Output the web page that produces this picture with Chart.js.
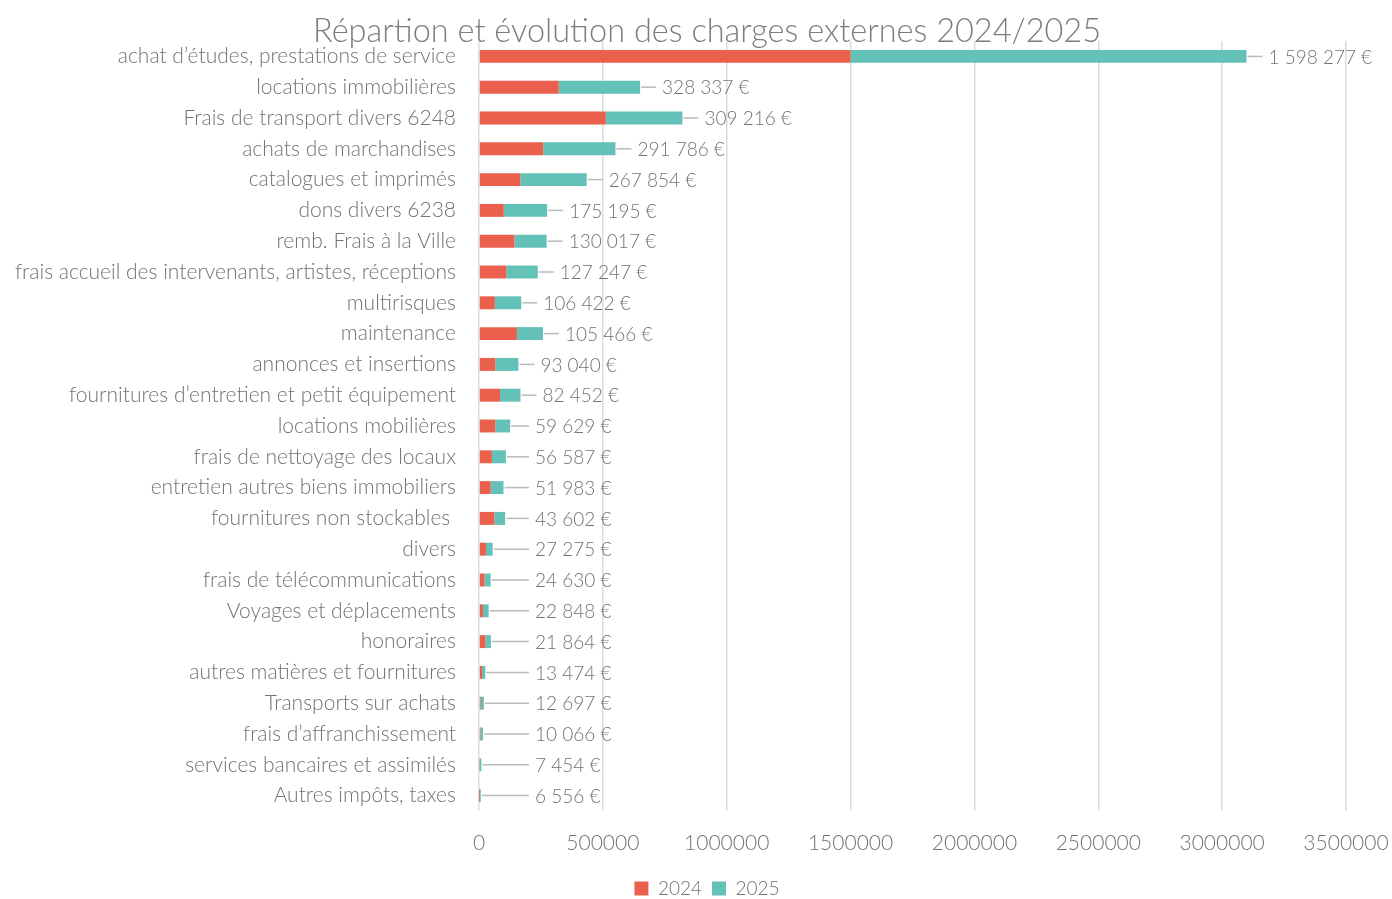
<!DOCTYPE html>
<html lang="fr">
<head>
<meta charset="utf-8">
<title>Charges externes 2024/2025</title>
<script src="https://cdn.jsdelivr.net/npm/chart.js@4.4.1/dist/chart.umd.min.js"></script>
<style>
  html, body { margin: 0; padding: 0; background: #fff; }
  #wrap { width: 1392px; height: 899px; }
</style>
</head>
<body>
<div id="wrap"><canvas id="charges"></canvas></div>
<script>
const categories = [
  "achat d’études, prestations de service",
  "locations immobilières",
  "Frais de transport divers 6248",
  "achats de marchandises",
  "catalogues et imprimés",
  "dons divers 6238",
  "remb. Frais à la Ville",
  "frais accueil des intervenants, artistes, réceptions",
  "multirisques",
  "maintenance",
  "annonces et insertions",
  "fournitures d’entretien et petit équipement",
  "locations mobilières",
  "frais de nettoyage des locaux",
  "entretien autres biens immobiliers",
  "fournitures non stockables ",
  "divers",
  "frais de télécommunications",
  "Voyages et déplacements",
  "honoraires",
  "autres matières et fournitures",
  "Transports sur achats",
  "frais d’affranchissement",
  "services bancaires et assimilés",
  "Autres impôts, taxes"
];
const values2024 = [1500000, 322000, 512000, 259000, 167000, 100000, 143000, 110000, 64000, 153000,
  66000, 85000, 66000, 52000, 47000, 62000, 28000, 22000, 16000, 26000, 12000, 7000, 6000, 2000, 500];
const values2025 = [1598277, 328337, 309216, 291786, 267854, 175195, 130017, 127247, 106422, 105466,
  93040, 82452, 59629, 56587, 51983, 43602, 27275, 24630, 22848, 21864, 13474, 12697, 10066, 7454, 6556];
const xTicks = [0, 500000, 1000000, 1500000, 2000000, 2500000, 3000000, 3500000];

const FONT = "Lato, 'Open Sans', sans-serif";
const GREY = '#6f7472';
const RED = '#eb604c';
const TEAL = '#63c1b7';

function euro(v) {
  return String(v).replace(/\B(?=(\d{3})+(?!\d))/g, ' ') + ' €';
}

// 2025 amounts written at the end of each stacked bar, with a grey leader line
const leaderLabels = {
  id: 'leaderLabels',
  afterDatasetsDraw(chart) {
    const { ctx } = chart;
    const meta = chart.getDatasetMeta(1);
    const x0 = chart.scales.x.getPixelForValue(0);
    ctx.save();
    ctx.font = '300 19px ' + FONT;
    ctx.textBaseline = 'middle';
    ctx.textAlign = 'left';
    meta.data.forEach((bar, i) => {
      const end = bar.x;
      const lx = Math.max(end + 22, x0 + 56);
      ctx.strokeStyle = '#b9bcbb';
      ctx.lineWidth = 1.5;
      ctx.beginPath();
      ctx.moveTo(end + 1, bar.y);
      ctx.lineTo(lx - 6, bar.y);
      ctx.stroke();
      ctx.fillStyle = GREY;
      ctx.fillText(euro(values2025[i]), lx, bar.y + 1);
    });
    ctx.restore();
  }
};

// long category names run left of the padded area; let the y axis draw them in full
const wideLabels = {
  id: 'wideLabels',
  afterLayout(chart) {
    chart.scales.y.left = 0;
  }
};

new Chart(document.getElementById('charges'), {
  type: 'bar',
  data: {
    labels: categories,
    datasets: [
      { label: '2024', data: values2024, backgroundColor: RED, barPercentage: 0.42, categoryPercentage: 1 },
      { label: '2025', data: values2025, backgroundColor: TEAL, barPercentage: 0.42, categoryPercentage: 1 }
    ]
  },
  options: {
    indexAxis: 'y',
    responsive: true,
    maintainAspectRatio: false,
    animation: false,
    layout: { padding: { left: 68, right: 46, top: 0, bottom: -9 } },
    scales: {
      x: {
        stacked: true,
        min: 0,
        max: 3500000,
        afterBuildTicks: (scale) => { scale.ticks = xTicks.map(v => ({ value: v })); },
        afterFit: (scale) => {
          scale.height = 58;
          scale.paddingLeft = 0;
          scale.paddingRight = 0;
        },
        grid: { color: '#dcdcdc', lineWidth: 1.5, drawTicks: false },
        border: { display: false },
        ticks: {
          padding: 20,
          color: GREY,
          font: { family: FONT, size: 21, weight: 300 },
          callback: (v) => String(v)
        }
      },
      y: {
        stacked: true,
        afterFit: (scale) => { scale.width = 411; },
        grid: { display: false, drawTicks: false },
        border: { display: false },
        ticks: {
          padding: 23,
          autoSkip: false,
          color: GREY,
          font: { family: FONT, size: 21, weight: 300 }
        }
      }
    },
    plugins: {
      title: {
        display: true,
        text: 'Répartion et évolution des charges externes 2024/2025',
        color: '#7a7e7c',
        font: { family: FONT, size: 32.5, weight: 300 },
        padding: { top: 12, bottom: -10 }
      },
      legend: {
        position: 'bottom',
        labels: {
          color: GREY,
          font: { family: FONT, size: 19, weight: 300 },
          boxWidth: 14,
          boxHeight: 14,
          padding: 10
        }
      },
      tooltip: { enabled: false }
    }
  },
  plugins: [leaderLabels, wideLabels]
});
</script>
</body>
</html>
